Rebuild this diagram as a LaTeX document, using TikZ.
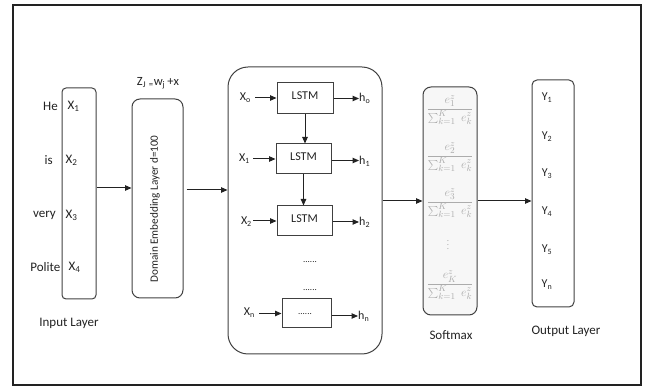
\documentclass[tikz,border=0pt]{standalone}
\usepackage{fontspec}
\setmainfont{Carlito}
\usetikzlibrary{arrows.meta}
\definecolor{linec}{HTML}{404040}
\definecolor{txtc}{HTML}{222222}
\definecolor{softc}{HTML}{ACACAC}
\definecolor{softfill}{HTML}{F7F7F7}
\newcommand{\smfrac}[1]{$\displaystyle\frac{e^{z}_{#1}}{\textstyle\sum_{k=1}^{K}\; e^{z}_{k}}$}
\begin{document}
\begin{tikzpicture}[x=1pt,y=-1pt,
  lbl/.style={font=\fontsize{13}{15}\selectfont, inner sep=0pt, text=txtc},
  sm/.style={font=\fontsize{12}{14}\selectfont, inner sep=0pt, text=txtc},
  layerbox/.style={draw=linec, line width=1pt, rounded corners=#1, inner sep=0pt},
  cellbox/.style={draw=linec, line width=1pt, inner sep=0pt},
  arr/.style={-{Triangle[length=6.5pt,width=5.5pt]}, line width=1pt, draw=txtc},
  frac/.style={inner sep=0pt, text=softc, font=\fontsize{13}{15}\selectfont}]
\useasboundingbox (0,0) rectangle (646,387);
\node[draw=txtc, line width=2pt, minimum width=628pt, minimum height=380pt, inner sep=0pt] (frame) at (327,195) {};

% input layer
\node[layerbox=4pt, minimum width=34pt, minimum height=211pt] (input) at (79,193.5) {};
\node[lbl, anchor=east] (w1) at (58,106) {He};
\node[lbl, anchor=east] (w2) at (53,160) {is};
\node[lbl, anchor=east] (w3) at (56,215) {very};
\node[lbl, anchor=east] (w4) at (60.5,267) {Polite};
\node[lbl] (x1) at (73.5,106) {X\textsubscript{1}};
\node[lbl] (x2) at (71.5,160) {X\textsubscript{2}};
\node[lbl] (x3) at (71.5,215) {X\textsubscript{3}};
\node[lbl] (x4) at (74.5,267) {X\textsubscript{4}};
\node[lbl] (inlab) at (69,323) {Input Layer};

% embedding layer
\node[layerbox=8pt, minimum width=51pt, minimum height=199pt] (embed) at (157.5,198.5) {};
\node[sm, font=\fontsize{11.2}{13}\selectfont, rotate=90] (embtxt) at (155,209) {Domain Embedding Layer d=100};
\node[lbl, font=\fontsize{12.5}{14}\selectfont] (zlab) at (158,83) {Z\textsubscript{J} \textsubscript{=}w\textsubscript{j}\,+x};

% LSTM group
\node[layerbox=20pt, minimum width=154pt, minimum height=287pt] (group) at (305,210.5) {};
\node[cellbox, minimum width=56pt, minimum height=31pt] (l1) at (305,98.5) {};
\node[cellbox, minimum width=55pt, minimum height=30pt] (l2) at (303.5,159) {};
\node[cellbox, minimum width=55pt, minimum height=30pt] (l3) at (304.5,221) {};
\node[cellbox, minimum width=49pt, minimum height=29pt] (l4) at (306.5,313.5) {};
\node[sm] (t1) at (305,96) {LSTM};
\node[sm] (t2) at (303.5,156.5) {LSTM};
\node[sm] (t3) at (304.5,218.5) {LSTM};
\node[sm, font=\fontsize{9}{10}\selectfont] (t4) at (305,314) {......};
\node[sm, font=\fontsize{9}{10}\selectfont] (d1) at (310,262) {......};
\node[sm, font=\fontsize{9}{10}\selectfont] (d2) at (310,290) {......};

\node[sm, anchor=east] (xi0) at (251,98) {X\textsubscript{o}};
\node[sm, anchor=east] (xi1) at (250,159) {X\textsubscript{1}};
\node[sm, anchor=east] (xi2) at (252,222) {X\textsubscript{2}};
\node[sm, anchor=east] (xin) at (255,313) {X\textsubscript{n}};
\node[sm, anchor=west] (h0) at (359,98.5) {h\textsubscript{o}};
\node[sm, anchor=west] (h1) at (359,161) {h\textsubscript{1}};
\node[sm, anchor=west] (h2) at (359,222) {h\textsubscript{2}};
\node[sm, anchor=west] (hn) at (358,316) {h\textsubscript{n}};

\draw[arr] ([xshift=4pt]xi0.east) -- (xi0.east -| l1.west);
\draw[arr] ([xshift=3pt]xi1.east) -- (l2.west);
\draw[arr] ([xshift=1pt]xi2.east |- l3.west) -- (l3.west);
\draw[arr] ([xshift=4pt]xin.east |- l4.west) -- (l4.west);
\draw[arr] (l1.east) -- (l1.east -| h0.west);
\draw[arr] ([yshift=-1.5pt]l2.east) -- ([yshift=-1.5pt]l2.east -| h1.west);
\draw[arr] ([yshift=-1pt]l3.east) -- ([yshift=-1pt]l3.east -| h2.west);
\draw[arr] ([yshift=-2.5pt]l4.east) -- ([yshift=-2.5pt]l4.east -| hn.west);
\draw[arr] (l1.south) -- (l1.south |- l2.north);
\draw[arr] (l2.south) -- (l2.south |- l3.north);

% softmax
\node[layerbox=8pt, fill=softfill, minimum width=54pt, minimum height=228pt] (soft) at (450,201) {};
\node[frac] (f1) at (450,110) {\smfrac{1}};
\node[frac] (f2) at (450,157) {\smfrac{2}};
\node[frac] (f3) at (450,203) {\smfrac{3}};
\node[frac, font=\fontsize{9}{10}\selectfont] (fv) at (448,242) {$\vdots$};
\node[frac] (fK) at (450,285) {\smfrac{K}};
\node[lbl] (smlab) at (451,335) {Softmax};

% output layer
\node[layerbox=5pt, minimum width=42pt, minimum height=227pt] (output) at (553,193.5) {};
\node[sm] (y1) at (547,98) {Y\textsubscript{1}};
\node[sm] (y2) at (547,137) {Y\textsubscript{2}};
\node[sm] (y3) at (547,174) {Y\textsubscript{3}};
\node[sm] (y4) at (547,212) {Y\textsubscript{4}};
\node[sm] (y5) at (547,250) {Y\textsubscript{5}};
\node[sm] (yn) at (547,285) {Y\textsubscript{n}};
\node[lbl] (outlab) at (566,331) {Output Layer};

% main connectors
\draw[arr] ([yshift=5.5pt]input.east) -- ([yshift=5.5pt]input.east -| embed.west);
\draw[arr] ([xshift=3pt,yshift=8.5pt]embed.east) -- ([yshift=8.5pt]embed.east -| group.west);
\draw[arr] (soft.west -| group.east) -- (soft.west);
\draw[arr] (soft.east) -- (soft.east -| output.west);
\end{tikzpicture}
\end{document}
